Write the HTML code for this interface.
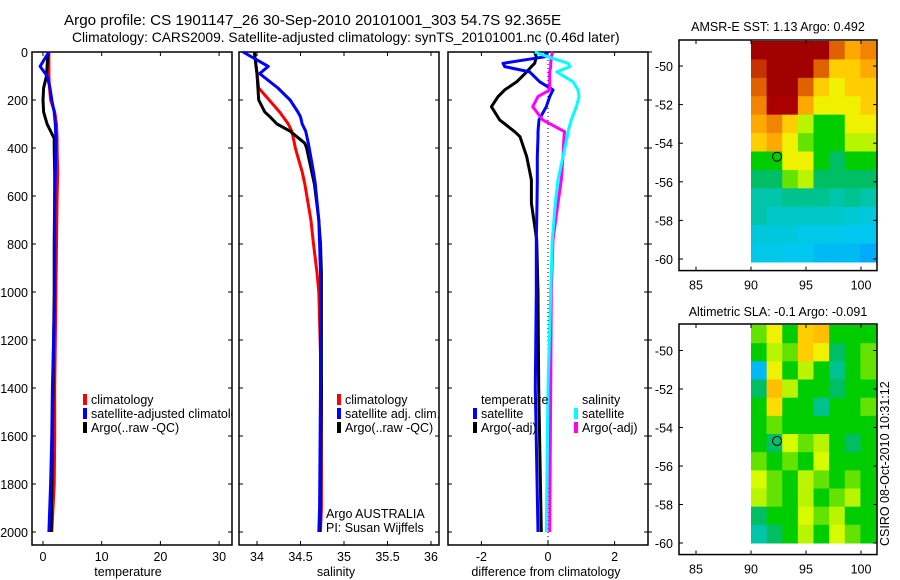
<!DOCTYPE html>
<html><head><meta charset="utf-8"><style>
body{margin:0;background:#fff}
svg{display:block;font-family:"Liberation Sans",sans-serif}
text{font-size:12.5px;fill:#000}
</style></head><body>
<svg id="fig" width="900" height="580" viewBox="0 0 900 580">
<defs><clipPath id="clip1"><rect x="32" y="52" width="200" height="493"/></clipPath></defs>
<text x="64" y="25" style="font-size:15.2px">Argo profile: CS 1901147_26 30-Sep-2010 20101001_303 54.7S 92.365E</text>
<text x="72" y="42" style="font-size:13.8px">Climatology: CARS2009. Satellite-adjusted climatology: synTS_20101001.nc (0.46d later)</text>
<g id="g"></g>
</svg>
<script>
const depthT=[0,20,60,100,150,200,250,300,360,400,500,600,800,1000,1200,1400,1600,1800,2000];
const tempClim=[1.0,1.0,1.0,1.0,1.1,1.3,2.0,2.3,2.4,2.4,2.5,2.4,2.3,2.2,2.1,2.0,2.0,1.9,1.5];
const tempSat=[1.0,0.5,-0.5,0.7,1.2,1.5,1.9,2.1,2.2,2.2,2.1,2.0,2.0,2.0,1.8,1.6,1.5,1.3,1.0];
const tempArgo=[0.9,0.8,0.7,0.6,0.1,0.0,0.1,0.7,1.9,1.9,2.0,2.0,1.9,1.9,1.8,1.7,1.6,1.5,1.4];
const depthS=[0,60,90,150,200,250,270,300,330,380,400,500,550,700,800,920,1000,1400,1900,2000];
const salClim=[33.97,33.99,34.0,34.02,34.14,34.26,34.3,34.36,34.4,34.43,34.44,34.52,34.55,34.62,34.65,34.69,34.71,34.74,34.74,34.73];
const salSat=[33.84,34.13,34.03,34.24,34.38,34.47,34.5,34.52,34.56,34.59,34.6,34.65,34.67,34.71,34.72,34.73,34.73,34.73,34.72,34.71];
const salArgo=[33.97,33.99,34.0,34.01,34.02,34.09,34.15,34.23,34.38,34.55,34.57,34.63,34.66,34.71,34.73,34.74,34.74,34.74,34.73,34.72];
const depthD=[0,20,47,61,83,124,158,186,228,283,332,353,436,533,630,783,1000,1400,2000];
const diffTSat=[-0.05,-0.1,-1.35,-1.3,-0.55,-0.25,0.15,0.05,-0.05,-0.27,-0.3,-0.3,-0.32,-0.32,-0.33,-0.35,-0.35,-0.38,-0.3];
const diffTArgo=[-0.4,-0.35,-0.4,-0.5,-0.64,-0.94,-1.3,-1.5,-1.7,-1.45,-1.0,-0.84,-0.64,-0.5,-0.5,-0.34,-0.3,-0.28,-0.2];
const diffSArgo=[0.14,0.1,0.08,0.08,0.05,0.05,0.05,-0.3,-0.46,-0.16,0.5,0.48,0.45,0.4,0.3,0.15,0.1,0.08,0.05];
const diffSSat=[-0.4,0.0,0.6,0.66,0.26,0.75,0.9,0.93,0.85,0.7,0.6,0.58,0.45,0.3,0.22,0.13,0.08,0.0,-0.05];
const sstGrid=[
[1,1,1,1,1,.85,.75,.8],[.9,1,1,1,.85,.7,.7,.75],[.85,1,1,.85,.7,.65,.7,.7],[.8,.95,.95,.75,.65,.65,.65,.7],
[.75,.8,.7,.6,.5,.5,.65,.65],[.7,.75,.65,.55,.5,.5,.6,.6],[.5,.5,.65,.65,.5,.45,.5,.5],[.45,.45,.55,.6,.45,.45,.45,.45],
[.4,.4,.42,.42,.42,.4,.42,.4],[.4,.38,.38,.38,.38,.38,.36,.35],[.35,.35,.35,.33,.33,.33,.32,.32],[.33,.33,.32,.32,.3,.3,.3,.28]];
const slaGrid=[
[.55,.65,.5,.7,.72,.5,.5,.5],[.5,.6,.55,.7,.65,.45,.5,.55],[.3,.65,.5,.6,.5,.42,.5,.55],[.45,.72,.6,.5,.5,.45,.5,.5],
[.5,.68,.5,.5,.42,.5,.5,.55],[.5,.55,.5,.5,.5,.5,.5,.5],[.5,.45,.62,.55,.6,.5,.45,.5],[.55,.5,.55,.5,.62,.5,.5,.5],
[.62,.55,.5,.6,.55,.5,.55,.5],[.6,.55,.5,.6,.5,.55,.6,.5],[.45,.5,.5,.62,.55,.6,.5,.5],[.4,.45,.5,.6,.5,.62,.55,.5]];
const depthTicks=[0,200,400,600,800,1000,1200,1400,1600,1800,2000];
const tempTicks=[0,10,20,30];
const salTicks=[34,34.5,35,35.5,36];
const diffTicks=[-2,0,2];
const lonTicks=[85,90,95,100];
const latTicks=[-50,-52,-54,-56,-58,-60];

const NS='http://www.w3.org/2000/svg';
const G=document.getElementById('g');
function mk(t,a,p){const e=document.createElementNS(NS,t);for(const k in a)e.setAttribute(k,a[k]);(p||G).appendChild(e);return e;}
const yD=d=>52+0.24*d;
const xT=v=>43+5.87*v, xS=v=>257+87*(v-34), xD=v=>548+33.3*v;
const lonX=l=>751+11*(l-90);
const latY1=l=>66+19.3*(-50-l), latY2=l=>350.5+19.25*(-50-l);

function panel(x0,x1,name){
  const r=mk('rect',{x:x0,y:52,width:x1-x0,height:493,fill:'none',stroke:'#000','stroke-width':1.5});
  
  
}
panel(32,232,'temperature-panel');panel(239,439,'salinity-panel');panel(448,648,'difference-panel');
depthTicks.forEach(d=>{
  [[32,36],[228,232],[239,243],[435,439],[448,452],[644,652]].forEach(p=>mk('line',{x1:p[0],x2:p[1],y1:yD(d),y2:yD(d),stroke:'#000'}));
  const t=mk('text',{x:28,y:yD(d)+5,'text-anchor':'end'});t.textContent=d;
  
  
});
function xticks(arr,fx,name){arr.forEach(v=>{
  mk('line',{x1:fx(v),x2:fx(v),y1:545,y2:541,stroke:'#000'});mk('line',{x1:fx(v),x2:fx(v),y1:52,y2:56,stroke:'#000'});
  const t=mk('text',{x:fx(v),y:561,'text-anchor':'middle'});t.textContent=v;
  
  
});}
xticks(tempTicks,xT,'temperature-tick-label');xticks(salTicks,xS,'salinity-tick-label');xticks(diffTicks,xD,'difference-tick-label');
[['temperature',128,'temperature-axis-title'],['salinity',336,'salinity-axis-title'],['difference from climatology',546,'difference-axis-title']].forEach(a=>{
  const t=mk('text',{x:a[1],y:576,'text-anchor':'middle'});t.textContent=a[0];
  
  
});
mk('line',{x1:xD(0),x2:xD(0),y1:52,y2:545,stroke:'#000','stroke-dasharray':'1,3'});

function line(vals,depths,fx,col,name){
  const pts=vals.map((v,i)=>fx(v).toFixed(1)+','+yD(depths[i]).toFixed(1)).join(' ');
  const p=mk('polyline',{points:pts,fill:'none',stroke:col,'stroke-width':3,'stroke-linejoin':'round'});
  
  
}
line(tempClim,depthT,xT,'#f00','temp-climatology-line');
line(tempArgo,depthT,xT,'#000','temp-argo-line');
line(tempSat,depthT,xT,'#00f','temp-satellite-line');
line(salClim,depthS,xS,'#f00','sal-climatology-line');
line(salArgo,depthS,xS,'#000','sal-argo-line');
line(salSat,depthS,xS,'#00f','sal-satellite-line');
line(diffTArgo,depthD,xD,'#000','diff-temp-argo-line');
line(diffTSat,depthD,xD,'#00f','diff-temp-satellite-line');
line(diffSArgo,depthD,xD,'#f0f','diff-sal-argo-line');
line(diffSSat,depthD,xD,'#0ff','diff-sal-satellite-line');

const clipG=mk('g',{'clip-path':'url(#clip1)'});
function legend(x,y,col,label,name,par){
  mk('rect',{x:x,y:y-10,width:4,height:11,fill:col},par);
  const t=mk('text',{x:x+8,y:y},par);t.textContent=label;
  
  
}
legend(83,404,'#f00','climatology','legend-climatology',clipG);
legend(83,418,'#00f','satellite-adjusted climatology','legend-satellite-adjusted',clipG);
legend(83,432,'#000','Argo(..raw -QC)','legend-argo-raw',clipG);
legend(337,404,'#f00','climatology','legend-sal-climatology');
legend(337,418,'#00f','satellite adj. clim.','legend-sal-satellite');
legend(337,432,'#000','Argo(..raw -QC)','legend-sal-argo');
legend(473,418,'#00f','satellite','legend-diff-temp-satellite');
legend(473,432,'#000','Argo(-adj)','legend-diff-temp-argo');
legend(574,418,'#0ff','satellite','legend-diff-sal-satellite');
legend(574,432,'#f0f','Argo(-adj)','legend-diff-sal-argo');
[['temperature',481,404,'legend-temperature-heading'],['salinity',582,404,'legend-salinity-heading'],['Argo AUSTRALIA',326,518,'agency-label'],['PI: Susan Wijffels',326,532,'pi-label']].forEach(a=>{
  const t=mk('text',{x:a[1],y:a[2]});t.textContent=a[0];
  
  
});

const stops=[[0,[0,0,255]],[.25,[0,150,255]],[.32,[0,200,240]],[.38,[0,200,200]],[.45,[0,190,100]],[.5,[0,205,0]],[.57,[140,235,0]],[.63,[230,255,0]],[.68,[255,220,0]],[.76,[255,160,0]],[.86,[220,90,0]],[.95,[170,0,0]],[1,[160,0,0]]];
function cmap(v){
  for(let i=1;i<stops.length;i++){ if(v<=stops[i][0]){const a=stops[i-1],b=stops[i],f=(v-a[0])/(b[0]-a[0]);
    return 'rgb('+a[1].map((c,k)=>Math.round(c+(b[1][k]-c)*f)).join(',')+')';}}
  return 'rgb(160,0,0)';
}
function map(grid,top,bottom,latY,title,ty,name){
  const cw=(876-751)/grid[0].length, ch=(bottom-top)/grid.length;
  grid.forEach((row,i)=>row.forEach((v,j)=>{
    const c=mk('rect',{x:751+j*cw,y:top+i*ch,width:cw+0.5,height:ch+0.5,fill:cmap(v)});
    
    
  }));
  const by0=top-1, by1=latY(-60.6);
  const b=mk('rect',{x:679,y:by0,width:198,height:by1-by0,fill:'none',stroke:'#000','stroke-width':1.5});
  
  
  lonTicks.forEach(l=>{
    mk('line',{x1:lonX(l),x2:lonX(l),y1:by1,y2:by1-4,stroke:'#000'});mk('line',{x1:lonX(l),x2:lonX(l),y1:by0,y2:by0+4,stroke:'#000'});
    const t=mk('text',{x:lonX(l),y:by1+19,'text-anchor':'middle'});t.textContent=l;
    
    
  });
  latTicks.forEach(l=>{
    mk('line',{x1:679,x2:683,y1:latY(l),y2:latY(l),stroke:'#000'});mk('line',{x1:873,x2:877,y1:latY(l),y2:latY(l),stroke:'#000'});
    const t=mk('text',{x:673,y:latY(l)+5,'text-anchor':'end'});t.textContent=l;
    
    
  });
  const c=mk('circle',{cx:lonX(92.365),cy:latY(-54.7),r:4.5,fill:'none',stroke:'#000','stroke-width':1});
  
  
  const t=mk('text',{x:778,y:ty,'text-anchor':'middle'});t.textContent=title;
  
  
}
map(sstGrid,41,262,latY1,'AMSR-E SST: 1.13 Argo: 0.492',31,'sst-map');
map(slaGrid,325,543,latY2,'Altimetric SLA: -0.1  Argo: -0.091',316,'sla-map');
const cs=mk('text',{x:0,y:0,transform:'translate(889,546) rotate(-90)'});cs.textContent='CSIRO 08-Oct-2010 10:31:12';


</script>
</body></html>
